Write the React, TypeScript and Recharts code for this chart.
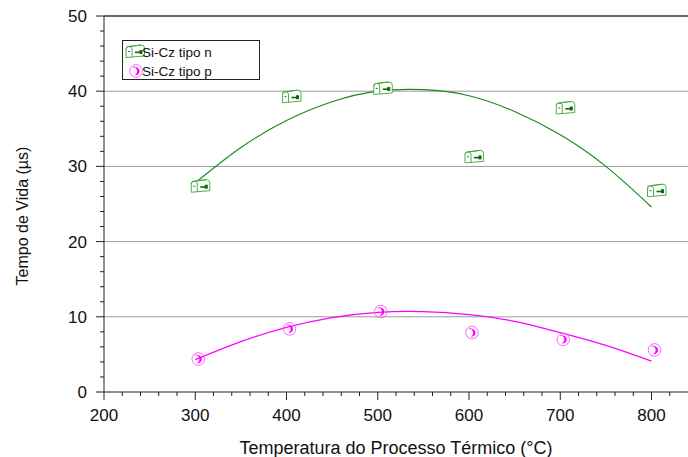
import React from 'react';
import { ComposedChart, Line, Scatter, XAxis, YAxis, ReferenceLine } from 'recharts';

// pontos medidos
const temperaturas = [300, 400, 500, 600, 700, 800];
const tipoN = [27.3, 39.2, 40.3, 31.2, 37.7, 26.7];
const tipoP = [4.4, 8.4, 10.7, 7.9, 7.0, 5.6];

// curvas de ajuste
const ajusteTemps = [300, 350, 400, 450, 500, 550, 600, 650, 700, 750, 800];
const ajusteN = [27.8, 32.5, 36.1, 38.6, 40.0, 40.2, 39.4, 37.3, 34.2, 30.0, 24.6];
const ajusteP = [4.3, 6.7, 8.6, 9.9, 10.6, 10.7, 10.3, 9.4, 7.9, 6.2, 4.1];

const yTicks = [0, 2, 4, 6, 8, 10, 12, 14, 16, 18, 20, 22, 24, 26, 28, 30, 32, 34, 36, 38, 40, 42, 44, 46, 48, 50];
const xTicks = [200, 220, 240, 260, 280, 300, 320, 340, 360, 380, 400, 420, 440, 460, 480, 500, 520, 540, 560, 580, 600, 620, 640, 660, 680, 700, 720, 740, 760, 780, 800, 820];
const gridY = [10, 20, 30, 40];

const FONT = '"Liberation Sans", Arial, sans-serif';
const VERDE = '#1b8a1b';
const ROSA = '#ff00ff';

const pontosN = temperaturas.map((t, i) => ({ x: t, y: tipoN[i] }));
const pontosP = temperaturas.map((t, i) => ({ x: t, y: tipoP[i] }));
const curvaN = ajusteTemps.map((t, i) => ({ x: t, y: ajusteN[i] }));
const curvaP = ajusteTemps.map((t, i) => ({ x: t, y: ajusteP[i] }));

const GreenGlyph = ({ cx, cy }: { cx: number; cy: number }) => (
    <g transform={`translate(${cx + 5},${cy})`}>
        <path d="M-9,5.5 L-9,-3 Q-9,-5.5 -6,-5.5 L6,-7 Q9.5,-7 9.5,-4 L9.5,4 Z" fill="#fff" stroke="#3aa63a" strokeWidth={0.9} />
        <path d="M-9,-3 Q-9,-5.5 -6,-5.5 Q-3,-5.5 -3,-3 L-3,5 M-6,-5.5 L6,-7" fill="none" stroke="#3aa63a" strokeWidth={0.9} />
        <line x1={-7} y1={-0.5} x2={-5} y2={-0.5} stroke="#1a5a1a" strokeWidth={0.9} />
        <rect x={0} y={-0.5} width={7} height={1.6} fill="#0b6b0b" />
        <rect x={4.5} y={-2} width={3} height={4} fill="#0b6b0b" />
    </g>
);

const PinkGlyph = ({ cx, cy }: { cx: number; cy: number }) => (
    <g transform={`translate(${cx + 3},${cy})`}>
        <circle cx={0} cy={0} r={6.3} fill="none" stroke="#ff55ff" strokeWidth={0.9} />
        <path d="M-1.5,-4.2 Q3.8,-3.5 3.5,0.5 Q3.2,4 -1.2,4.3 Q1.5,2 1.2,0 Q1,-2.5 -1.5,-4.2 Z" fill={ROSA} />
        <line x1={-3} y1={-3.5} x2={-1} y2={-4.2} stroke={ROSA} strokeWidth={0.8} />
    </g>
);

const YTick = (props: any) => {
    const { x, y, payload } = props;
    const major = payload.value % 10 === 0;
    return (
        <g>
            <line x1={x - (major ? 8 : 4)} y1={y} x2={x} y2={y} stroke="#222" strokeWidth={1} />
            {major && (
                <text x={x - 17} y={y + 6} textAnchor="end" fontSize={17} fontFamily={FONT} fill="#111">
                    {payload.value}
                </text>
            )}
        </g>
    );
};

const XTick = (props: any) => {
    const { x, y, payload } = props;
    const major = payload.value % 100 === 0;
    return (
        <g>
            <line x1={x} y1={y} x2={x} y2={y + (major ? 8 : 4)} stroke="#222" strokeWidth={1} />
            {major && (
                <text x={x} y={y + 29} textAnchor="middle" fontSize={17} fontFamily={FONT} fill="#111">
                    {payload.value}
                </text>
            )}
        </g>
    );
};

const Legenda = () => (
    <div
        style={{
            position: 'absolute',
            left: 122,
            top: 40,
            width: 136,
            height: 38,
            border: '1px solid #222',
            background: '#fff',
            fontFamily: FONT,
            fontSize: 13.5,
            color: '#111',
        }}
    >
        <svg width={136} height={38} style={{ position: 'absolute', left: 0, top: 0 }}>
            <GreenGlyph cx={7} cy={11} />
            <PinkGlyph cx={10} cy={30} />
            <text x={19} y={16} fontSize={13.5} fontFamily={FONT} fill="#111">Si-Cz tipo n</text>
            <text x={19} y={35} fontSize={13.5} fontFamily={FONT} fill="#111">Si-Cz tipo p</text>
        </svg>
    </div>
);

export default function App() {
    return (
        <div style={{ position: 'absolute', left: 0, top: 0, width: 688, height: 457, background: '#fff' }}>
            <ComposedChart width={688} height={457} margin={{ top: 16, right: 0, left: 0, bottom: 0 }}>
                <XAxis
                    type="number"
                    dataKey="x"
                    domain={[200, 840]}
                    ticks={xTicks}
                    interval={0}
                    tickSize={0}
                    tickMargin={0}
                    tick={<XTick />}
                    height={65}
                    stroke="#222"
                    label={{
                        value: 'Temperatura do Processo Térmico (°C)',
                        position: 'insideBottom',
                        offset: 3,
                        fontSize: 18,
                        fontFamily: FONT,
                        fill: '#111',
                    }}
                />
                <YAxis
                    type="number"
                    dataKey="y"
                    domain={[0, 50]}
                    ticks={yTicks}
                    interval={0}
                    tickSize={0}
                    tickMargin={0}
                    tick={<YTick />}
                    width={104}
                    stroke="#222"
                    label={{
                        content: () => (
                            <text x={28} y={216} transform="rotate(-90 28 216)" textAnchor="middle" fontSize={16} fontFamily={FONT} fill="#111">
                                Tempo de Vida (µs)
                            </text>
                        ),
                    }}
                />
                {gridY.map((v) => (
                    <ReferenceLine key={v} y={v} stroke="#9a9a9a" strokeWidth={1} />
                ))}
                <ReferenceLine y={50} stroke="#6a6a6a" strokeWidth={2} />
                <Line data={curvaN} dataKey="y" type="natural" stroke={VERDE} strokeWidth={1.2} dot={false} isAnimationActive={false} />
                <Line data={curvaP} dataKey="y" type="natural" stroke={ROSA} strokeWidth={1.2} dot={false} isAnimationActive={false} />
                <Scatter data={pontosN} dataKey="y" shape={(p: any) => <GreenGlyph cx={p.cx} cy={p.cy} />} isAnimationActive={false} />
                <Scatter data={pontosP} dataKey="y" shape={(p: any) => <PinkGlyph cx={p.cx} cy={p.cy} />} isAnimationActive={false} />
            </ComposedChart>
            <Legenda />
        </div>
    );
}
